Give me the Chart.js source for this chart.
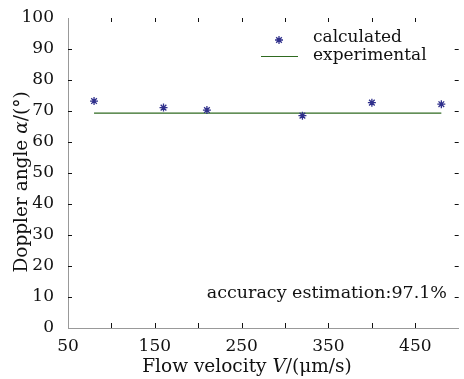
<!DOCTYPE html>
<html>
<head>
<meta charset="utf-8">
<script src="https://cdn.jsdelivr.net/npm/chart.js@4"></script>
<style>
  html, body { margin: 0; padding: 0; background: #fff; }
  #wrap { width: 464px; height: 379px; position: relative; }
</style>
</head>
<body>
<div id="wrap"><canvas id="chart" width="464" height="379"></canvas></div>
<script>
// data
const velocity = [80, 160, 210, 320, 400, 480];
const calculatedAngle = [73.2, 71.1, 70.3, 68.5, 72.7, 72.2];
const experimentalVelocity = [80, 480];
const experimentalAngle = [69.3, 69.3];
const xLabelTicks = [50, 150, 250, 350, 450];
const accuracyText = 'accuracy estimation:97.1%';

const serif = 'DejaVu Serif';
const starColor = '#30308c';
const lineColor = '#2f6a20';

Chart.defaults.font.family = serif;
Chart.defaults.color = '#111';

// inward ticks on all four sides, plus titles with italic symbols
const decorPlugin = {
    id: 'decor',
    afterDraw(chart) {
        const ctx = chart.ctx;
        const a = chart.chartArea;
        const xs = chart.scales.x;
        const ys = chart.scales.y;
        ctx.save();
        ctx.strokeStyle = '#111';
        ctx.lineWidth = 1;
        ctx.beginPath();
        xs.ticks.forEach(t => {
            if (t.value === xs.min || t.value === xs.max) return;
            const px = Math.round(xs.getPixelForValue(t.value)) + 0.5;
            ctx.moveTo(px, a.bottom); ctx.lineTo(px, a.bottom - 5);
            ctx.moveTo(px, a.top); ctx.lineTo(px, a.top + 4);
        });
        ys.ticks.forEach(t => {
            if (t.value === ys.min || t.value === ys.max) return;
            const py = Math.round(ys.getPixelForValue(t.value)) + 0.5;
            ctx.moveTo(a.left, py); ctx.lineTo(a.left + 4, py);
            ctx.moveTo(a.right, py); ctx.lineTo(a.right - 4, py);
        });
        ctx.stroke();

        ctx.fillStyle = '#111';
        ctx.textBaseline = 'alphabetic';

        // accuracy note
        ctx.font = '17.5px ' + serif;
        ctx.textAlign = 'right';
        ctx.fillText(accuracyText, 447, 298);

        // legend
        ctx.font = '17px ' + serif;
        ctx.textAlign = 'left';
        ctx.fillText('calculated', 313, 42);
        ctx.fillText('experimental', 313, 60);
        drawStar(ctx, 279, 40, 4);
        ctx.strokeStyle = lineColor;
        ctx.lineWidth = 1.2;
        ctx.beginPath();
        ctx.moveTo(261, 56.5); ctx.lineTo(298, 56.5);
        ctx.stroke();

        // x title
        drawParts(ctx, [
            ['Flow velocity ', false], ['V', true], ['/(\u03bcm/s)', false]
        ], 247, 372);

        // y title
        ctx.save();
        ctx.translate(27, 182);
        ctx.rotate(-Math.PI / 2);
        drawParts(ctx, [
            ['Doppler angle ', false], ['\u03b1', true], ['/(\u00b0)', false]
        ], 0, 0);
        ctx.restore();

        ctx.restore();
    }
};

function drawStar(ctx, x, y, r) {
    ctx.save();
    ctx.strokeStyle = starColor;
    ctx.lineWidth = 1.3;
    ctx.beginPath();
    for (let i = 0; i < 4; i++) {
        const ang = i * Math.PI / 4;
        ctx.moveTo(x - r * Math.cos(ang), y - r * Math.sin(ang));
        ctx.lineTo(x + r * Math.cos(ang), y + r * Math.sin(ang));
    }
    ctx.stroke();
    ctx.restore();
}

function drawParts(ctx, parts, cx, y) {
    const fonts = parts.map(p => (p[1] ? 'italic ' : '') + '18.5px ' + serif);
    let total = 0;
    const widths = parts.map((p, i) => {
        ctx.font = fonts[i];
        const w = ctx.measureText(p[0]).width;
        total += w;
        return w;
    });
    let x = cx - total / 2;
    ctx.textAlign = 'left';
    parts.forEach((p, i) => {
        ctx.font = fonts[i];
        ctx.fillText(p[0], x, y);
        x += widths[i];
    });
}

new Chart(document.getElementById('chart'), {
    type: 'scatter',
    data: {
        datasets: [{
            label: 'calculated',
            data: velocity.map((v, i) => ({ x: v, y: calculatedAngle[i] })),
            pointStyle: 'star',
            pointRadius: 4,
            borderColor: starColor,
            backgroundColor: starColor,
            borderWidth: 1.3,
            showLine: false
        }, {
            label: 'experimental',
            data: experimentalVelocity.map((v, i) => ({ x: v, y: experimentalAngle[i] })),
            showLine: true,
            pointRadius: 0,
            borderColor: lineColor,
            borderWidth: 1.2
        }]
    },
    options: {
        responsive: false,
        animation: false,
        layout: { padding: { left: 0, top: 18, right: 3, bottom: 0 } },
        plugins: {
            legend: { display: false },
            tooltip: { enabled: false }
        },
        scales: {
            x: {
                type: 'linear',
                min: 50,
                max: 500,
                afterFit: s => { s.height = 51; },
                border: { display: true, color: '#999', width: 1 },
                grid: { display: false },
                ticks: {
                    stepSize: 50,
                    maxRotation: 0,
                    autoSkip: false,
                    padding: 0,
                    color: '#111',
                    font: { family: serif, size: 17 },
                    callback: v => xLabelTicks.includes(v) ? String(v) : ''
                }
            },
            y: {
                min: 0,
                max: 100,
                afterFit: s => { s.width = 68; },
                border: { display: true, color: '#999', width: 1 },
                grid: { display: false },
                ticks: {
                    stepSize: 10,
                    padding: 6,
                    color: '#111',
                    font: { family: serif, size: 17 }
                }
            }
        }
    },
    plugins: [decorPlugin]
});
</script>
</body>
</html>
